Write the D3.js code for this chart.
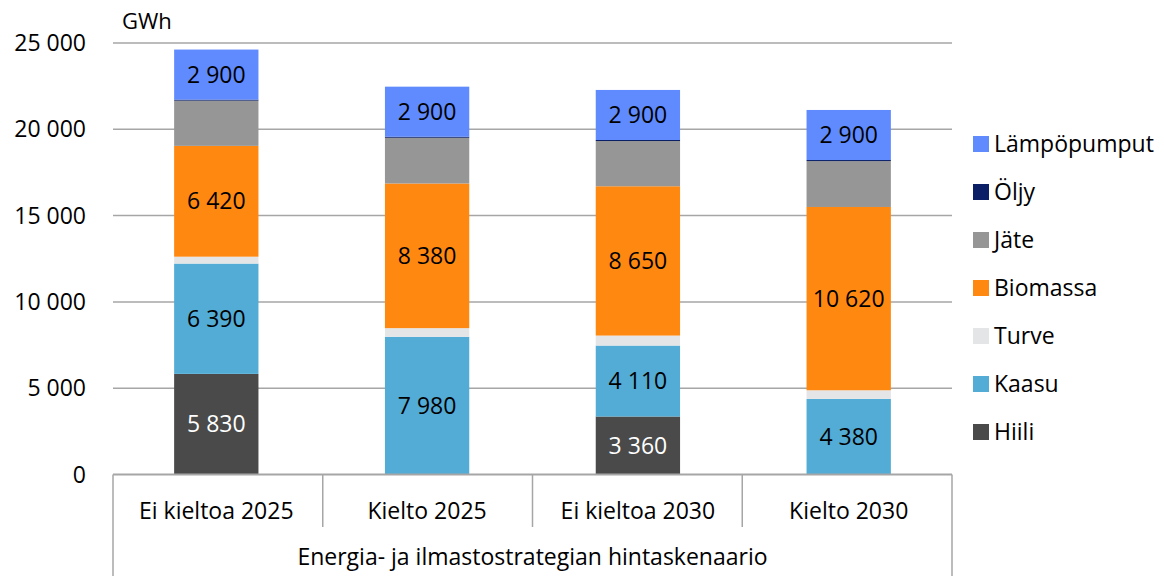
<!DOCTYPE html>
<html>
<head>
<meta charset="utf-8">
<script src="https://cdn.jsdelivr.net/npm/d3@7"></script>
<style>
  body { margin: 0; background: #fff; }
  text { font-family: "Open Sans", sans-serif; }
</style>
</head>
<body>
<div id="chart"></div>
<script>
// data
var categories = ['Ei kieltoa 2025', 'Kielto 2025', 'Ei kieltoa 2030', 'Kielto 2030'];
var group_label = 'Energia- ja ilmastostrategian hintaskenaario';
var series_names = ['Hiili', 'Kaasu', 'Turve', 'Biomassa', 'Jäte', 'Öljy', 'Lämpöpumput'];
var hiili = [5830, 0, 3360, 0];
var kaasu = [6390, 7980, 4110, 4380];
var turve = [400, 500, 580, 500];
var biomassa = [6420, 8380, 8650, 10620];
var jate = [2620, 2650, 2620, 2660];
var oljy = [60, 60, 60, 60];
var lampopumput = [2900, 2900, 2900, 2900];
var y_ticks = [0, 5000, 10000, 15000, 20000, 25000];
// which series get a value label
var labelled = ['Hiili', 'Kaasu', 'Biomassa', 'Lämpöpumput'];

var colors = {
	'Hiili': '#4a4a4a',
	'Kaasu': '#52acd6',
	'Turve': '#e4e5e7',
	'Biomassa': '#ff8811',
	'Jäte': '#969696',
	'Öljy': '#0a1f66',
	'Lämpöpumput': '#5f8bff'
};

var values = [hiili, kaasu, turve, biomassa, jate, oljy, lampopumput];
var rows = categories.map(function(c, i) {
	var r = {category: c};
	series_names.forEach(function(s, j) { r[s] = values[j][i]; });
	return r;
});

var width = 1164, height = 576;
var plot = {left: 113, right: 952, top: 43, bottom: 474.5};
var fs = 23;

var svg = d3.select('#chart').append('svg')
	.attr('width', width)
	.attr('height', height);

var x = d3.scaleBand()
	.domain(categories)
	.range([plot.left, plot.right])
	.paddingInner(0.6)
	.paddingOuter(0.29);

var y = d3.scaleLinear()
	.domain([0, 25000])
	.range([plot.bottom, plot.top]);

var fmt = function(v) { return d3.format(',')(v).replace(/,/g, ' '); };

// gridlines
svg.append('g')
	.selectAll('line')
	.data(y_ticks.filter(function(d) { return d > 0; }))
	.enter().append('line')
	.attr('x1', plot.left)
	.attr('x2', plot.right)
	.attr('y1', function(d) { return y(d); })
	.attr('y2', function(d) { return y(d); })
	.attr('stroke', '#a6a6a6')
	.attr('stroke-width', 1.5);

// y tick labels
svg.append('g')
	.selectAll('text')
	.data(y_ticks)
	.enter().append('text')
	.attr('x', 86)
	.attr('y', function(d) { return y(d); })
	.attr('dy', '0.35em')
	.attr('text-anchor', 'end')
	.attr('font-size', fs)
	.attr('fill', '#000')
	.text(fmt);

svg.append('text')
	.attr('x', 122)
	.attr('y', 29)
	.attr('font-size', 22)
	.text('GWh');

// stacked bars
var stack = d3.stack().keys(series_names);
var layers = stack(rows);

var layer = svg.append('g')
	.selectAll('g')
	.data(layers)
	.enter().append('g')
	.attr('fill', function(d) { return colors[d.key]; });

layer.selectAll('rect')
	.data(function(d) { return d; })
	.enter().append('rect')
	.attr('x', function(d) { return x(d.data.category); })
	.attr('width', x.bandwidth())
	.attr('y', function(d) { return y(d[1]); })
	.attr('height', function(d) { return Math.max(0, y(d[0]) - y(d[1])); });

// value labels
layers.forEach(function(l) {
	if (labelled.indexOf(l.key) === -1) return;
	svg.append('g')
		.selectAll('text')
		.data(l.filter(function(d) { return d[1] - d[0] > 0; }))
		.enter().append('text')
		.attr('x', function(d) { return x(d.data.category) + x.bandwidth() / 2; })
		.attr('y', function(d) { return (y(d[0]) + y(d[1])) / 2; })
		.attr('dy', '0.35em')
		.attr('text-anchor', 'middle')
		.attr('font-size', fs)
		.attr('fill', l.key === 'Hiili' ? '#fff' : '#000')
		.text(function(d) { return fmt(d[1] - d[0]); });
});

// category axis
var axis = svg.append('g');
axis.append('line')
	.attr('x1', plot.left).attr('x2', plot.right)
	.attr('y1', plot.bottom).attr('y2', plot.bottom)
	.attr('stroke', '#a6a6a6')
	.attr('stroke-width', 2);

var bounds = d3.range(categories.length + 1).map(function(i) {
	return plot.left + i * (plot.right - plot.left) / categories.length;
});
axis.selectAll('.div')
	.data(bounds)
	.enter().append('line')
	.attr('class', 'div')
	.attr('x1', function(d) { return d; })
	.attr('x2', function(d) { return d; })
	.attr('y1', plot.bottom)
	.attr('y2', function(d, i) { return (i === 0 || i === categories.length) ? height : 527; })
	.attr('stroke', '#a6a6a6')
	.attr('stroke-width', 1.5);

axis.selectAll('.cat')
	.data(categories)
	.enter().append('text')
	.attr('class', 'cat')
	.attr('x', function(d) { return x(d) + x.bandwidth() / 2; })
	.attr('y', 511)
	.attr('dy', '0.35em')
	.attr('text-anchor', 'middle')
	.attr('font-size', fs)
	.text(function(d) { return d; });

axis.append('text')
	.attr('x', (plot.left + plot.right) / 2)
	.attr('y', 557)
	.attr('dy', '0.35em')
	.attr('text-anchor', 'middle')
	.attr('font-size', fs)
	.text(group_label);

// legend
var legend_items = series_names.slice().reverse();
var legend = svg.append('g')
	.selectAll('g')
	.data(legend_items)
	.enter().append('g')
	.attr('transform', function(d, i) { return 'translate(973,' + (144 + i * 48) + ')'; });

legend.append('rect')
	.attr('x', 0)
	.attr('y', -8)
	.attr('width', 16)
	.attr('height', 16)
	.attr('fill', function(d) { return colors[d]; });

legend.append('text')
	.attr('x', 21)
	.attr('y', 0)
	.attr('dy', '0.35em')
	.attr('font-size', fs)
	.text(function(d) { return d; });
</script>
</body>
</html>
